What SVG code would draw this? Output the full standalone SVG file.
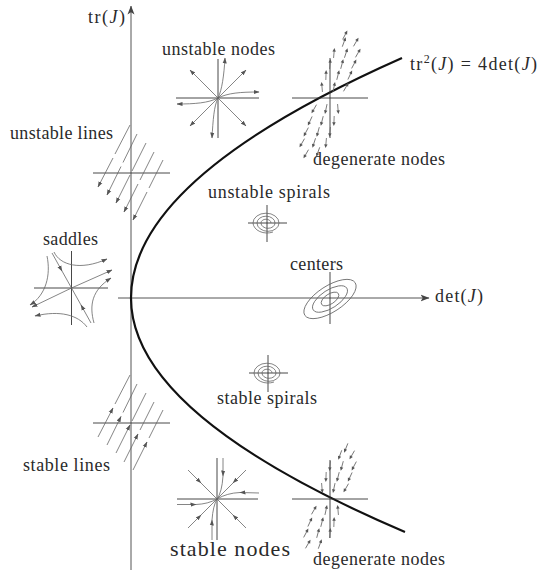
<svg xmlns="http://www.w3.org/2000/svg" xmlns:xlink="http://www.w3.org/1999/xlink" width="540" height="570" viewBox="0 0 540 570">
<style>
.t{font-family:"Liberation Serif","Times New Roman",serif;font-size:18px;fill:#2a2a2a}
.ax{stroke:#555;stroke-width:1;fill:none}
.cr{stroke:#333;stroke-width:0.9;fill:none}
.p{stroke:#666;stroke-width:0.8;fill:none}
.pa{stroke:#666;stroke-width:0.8;fill:none;marker-end:url(#a)}
.pm{stroke:#666;stroke-width:0.8;fill:none;marker-mid:url(#a)}
</style>
<defs>
<marker id="a" markerUnits="userSpaceOnUse" markerWidth="6" markerHeight="6" viewBox="0 0 6 6" refX="5.5" refY="3" orient="auto"><path d="M0 0.9L6 3L0 5.1z" fill="#555"/></marker>
<marker id="big" markerUnits="userSpaceOnUse" markerWidth="9" markerHeight="8" viewBox="0 0 9 8" refX="8.5" refY="4" orient="auto"><path d="M0 0.5L9 4L0 7.5L2.2 4z" fill="#444"/></marker>
<g id="d"><path d="M-5 0H2.5" fill="none" stroke="#666" stroke-width="0.8"/><path d="M5 0L1.3-1.7L1.3 1.7z" fill="#555"/></g>
</defs>
<rect width="540" height="570" fill="#fff"/>

<g id="connectors">
<path class="ax" d="M131 570V6" marker-end="url(#big)"/>
<path class="ax" d="M118 298H429" marker-end="url(#big)"/>
<path d="M402 58Q131 178 131 298Q131 415 405 532" fill="none" stroke="#111" stroke-width="2.2"/>
</g>

<g id="axis-labels">
<text class="t" x="88" y="23" textLength="37">tr(<tspan font-style="italic">J</tspan>)</text>
<text class="t" x="435" y="302" textLength="48">det(<tspan font-style="italic">J</tspan>)</text>
<text class="t" x="410" y="70" textLength="127">tr<tspan font-size="12" dy="-7">2</tspan><tspan dy="7">(</tspan><tspan font-style="italic">J</tspan>) = 4det(<tspan font-style="italic">J</tspan>)</text>
</g>

<g id="unstable-nodes">
<text class="t" x="162" y="55" textLength="113">unstable nodes</text>
<path class="cr" d="M176 98H259M218 59V138"/>
<path class="pa" d="M218 98L190 70"/>
<path class="pa" d="M218 98L246 70"/>
<path class="pa" d="M218 98L190 126"/>
<path class="pa" d="M218 98L246 126"/>
<path class="pa" d="M218 98C222 90 224 75 225 58"/>
<path class="pa" d="M218 98C228 93 240 92 259 92"/>
<path class="pa" d="M218 98C208 103 195 104 177 104"/>
<path class="pa" d="M218 98C214 106 213 120 212 138"/>
</g>

<g id="stable-nodes">
<text class="t" x="170" y="556" textLength="120" style="font-size:22px">stable nodes</text>
<path class="cr" d="M177 499H258M217 458V540"/>
<path class="pm" d="M188 470L201 483L217 499"/>
<path class="pm" d="M246 470L233 483L217 499"/>
<path class="pm" d="M188 528L201 515L217 499"/>
<path class="pm" d="M246 528L233 515L217 499"/>
<path class="pm" d="M259 493L240 492.5Q227 493 217 499"/>
<path class="pm" d="M177 504.5L196 504.5Q208 504 217 499"/>
<path class="pm" d="M223 458L223 476Q222 492 217 499"/>
<path class="pm" d="M212 540L212 520Q213 506 217 499"/>
</g>

<g id="unstable-lines">
<text class="t" x="10" y="139" textLength="103">unstable lines</text>
<path class="cr" d="M93 173H170"/>
<path class="pa" d="M115 154L130 125M113 158L98 187"/>
<path class="pa" d="M123 162.5L137 134M121 166.5L107 195"/>
<path class="pa" d="M132 171L146 143M130 175L116 203"/>
<path class="pa" d="M140 180L154 152M138 184L124 212"/>
<path class="pa" d="M149 188L163 160M147 192L133 220"/>
</g>

<g id="stable-lines">
<text class="t" x="23" y="471" textLength="87">stable lines</text>
<path class="cr" d="M93 423H170"/>
<path class="pa" d="M130 375L115 404M98 437L113 408"/>
<path class="pa" d="M137 384L123 412.5M107 445L121 416.5"/>
<path class="pa" d="M146 393L132 421M116 453L130 425"/>
<path class="pa" d="M154 402L140 430M124 462L138 434"/>
<path class="pa" d="M163 410L149 438M133 470L147 442"/>
</g>

<g id="saddles">
<text class="t" x="43" y="245" textLength="55">saddles</text>
<path class="cr" d="M34 288H108M71.5 251V325"/>
<path class="pa" d="M71.5 288L32 307"/>
<path class="pa" d="M71.5 288L112 270"/>
<path class="pm" d="M52 253L62 271L71.5 288"/>
<path class="pm" d="M91 323L81 305L71.5 288"/>
<path class="pa" d="M54 252C60 265 80 271 107 259"/>
<path class="pa" d="M94 323C89 305 92 290 111 278"/>
<path class="pa" d="M87 327C78 315 60 310 35 316"/>
<path class="pa" d="M47 256C51 275 46 295 30 305"/>
</g>

<g id="unstable-spirals">
<text class="t" x="208" y="198" textLength="122">unstable spirals</text>
<path class="cr" d="M248 223H287M267 205V242"/>
<path class="p" d="M271 223A5 3.8 0 0 0 261 223A7 5.3 0 0 0 275 223A9 6.8 0 0 0 257 223A11 8.3 0 0 0 279 223A13 9.8 0 0 0 253 223A14 10.5 0 0 0 273 232"/>
</g>

<g id="stable-spirals">
<text class="t" x="217" y="404" textLength="100">stable spirals</text>
<path class="cr" d="M249 373H288M268 355V392"/>
<path class="p" d="M272 373A5 3.8 0 0 0 262 373A7 5.3 0 0 0 276 373A9 6.8 0 0 0 258 373A11 8.3 0 0 0 280 373A13 9.8 0 0 0 254 373A14 10.5 0 0 0 274 382"/>
</g>

<g id="centers">
<text class="t" x="290" y="270" textLength="53">centers</text>
<path class="cr" d="M330 272V324"/>
<g class="p" transform="rotate(-33 330 299)">
<ellipse cx="330" cy="299" rx="30" ry="13"/>
<ellipse cx="330" cy="299" rx="20" ry="9"/>
<ellipse cx="330" cy="299" rx="10" ry="5"/>
</g>
</g>

<g id="degenerate-nodes-unstable">
<text class="t" x="313" y="165" textLength="132">degenerate nodes</text>
<path class="cr" d="M292 98H368M330 58V138"/>
<use xlink:href="#d" transform="translate(345 35) rotate(-62)"/>
<use xlink:href="#d" transform="translate(344 42) rotate(-70)"/>
<use xlink:href="#d" transform="translate(356 42) rotate(-60)"/>
<use xlink:href="#d" transform="translate(334 53) rotate(-85)"/>
<use xlink:href="#d" transform="translate(346 53) rotate(-72)"/>
<use xlink:href="#d" transform="translate(358 53) rotate(-60)"/>
<use xlink:href="#d" transform="translate(330 64) rotate(-85)"/>
<use xlink:href="#d" transform="translate(342 64) rotate(-75)"/>
<use xlink:href="#d" transform="translate(354 64) rotate(-62)"/>
<use xlink:href="#d" transform="translate(326 75) rotate(-88)"/>
<use xlink:href="#d" transform="translate(338 75) rotate(-76)"/>
<use xlink:href="#d" transform="translate(350 75) rotate(-65)"/>
<use xlink:href="#d" transform="translate(322 87) rotate(-95)"/>
<use xlink:href="#d" transform="translate(334 87) rotate(-78)"/>
<use xlink:href="#d" transform="translate(346 87) rotate(-60)"/>
<use xlink:href="#d" transform="translate(314 109) rotate(120)"/>
<use xlink:href="#d" transform="translate(326 109) rotate(102)"/>
<use xlink:href="#d" transform="translate(338 109) rotate(85)"/>
<use xlink:href="#d" transform="translate(310 121) rotate(115)"/>
<use xlink:href="#d" transform="translate(322 121) rotate(104)"/>
<use xlink:href="#d" transform="translate(334 121) rotate(92)"/>
<use xlink:href="#d" transform="translate(306 132) rotate(118)"/>
<use xlink:href="#d" transform="translate(318 132) rotate(105)"/>
<use xlink:href="#d" transform="translate(330 132) rotate(95)"/>
<use xlink:href="#d" transform="translate(302 143) rotate(120)"/>
<use xlink:href="#d" transform="translate(314 143) rotate(108)"/>
<use xlink:href="#d" transform="translate(326 143) rotate(95)"/>
<use xlink:href="#d" transform="translate(306 154) rotate(120)"/>
<use xlink:href="#d" transform="translate(318 152) rotate(110)"/>
</g>

<g id="degenerate-nodes-stable">
<text class="t" x="313" y="565" textLength="132">degenerate nodes</text>
<path class="cr" d="M292 499H368M330 460V538"/>
<use xlink:href="#d" transform="translate(346 448) rotate(112)"/>
<use xlink:href="#d" transform="translate(340 455) rotate(110)"/>
<use xlink:href="#d" transform="translate(352 455) rotate(120)"/>
<use xlink:href="#d" transform="translate(330 466) rotate(95)"/>
<use xlink:href="#d" transform="translate(342 466) rotate(105)"/>
<use xlink:href="#d" transform="translate(354 466) rotate(118)"/>
<use xlink:href="#d" transform="translate(326 477) rotate(92)"/>
<use xlink:href="#d" transform="translate(338 477) rotate(104)"/>
<use xlink:href="#d" transform="translate(350 477) rotate(115)"/>
<use xlink:href="#d" transform="translate(322 488) rotate(85)"/>
<use xlink:href="#d" transform="translate(334 488) rotate(102)"/>
<use xlink:href="#d" transform="translate(346 488) rotate(120)"/>
<use xlink:href="#d" transform="translate(314 510) rotate(-60)"/>
<use xlink:href="#d" transform="translate(326 510) rotate(-78)"/>
<use xlink:href="#d" transform="translate(338 510) rotate(-95)"/>
<use xlink:href="#d" transform="translate(310 522) rotate(-65)"/>
<use xlink:href="#d" transform="translate(322 522) rotate(-76)"/>
<use xlink:href="#d" transform="translate(334 522) rotate(-88)"/>
<use xlink:href="#d" transform="translate(306 533) rotate(-62)"/>
<use xlink:href="#d" transform="translate(318 533) rotate(-75)"/>
<use xlink:href="#d" transform="translate(330 533) rotate(-85)"/>
<use xlink:href="#d" transform="translate(308 544) rotate(-60)"/>
<use xlink:href="#d" transform="translate(320 544) rotate(-70)"/>
</g>
</svg>
